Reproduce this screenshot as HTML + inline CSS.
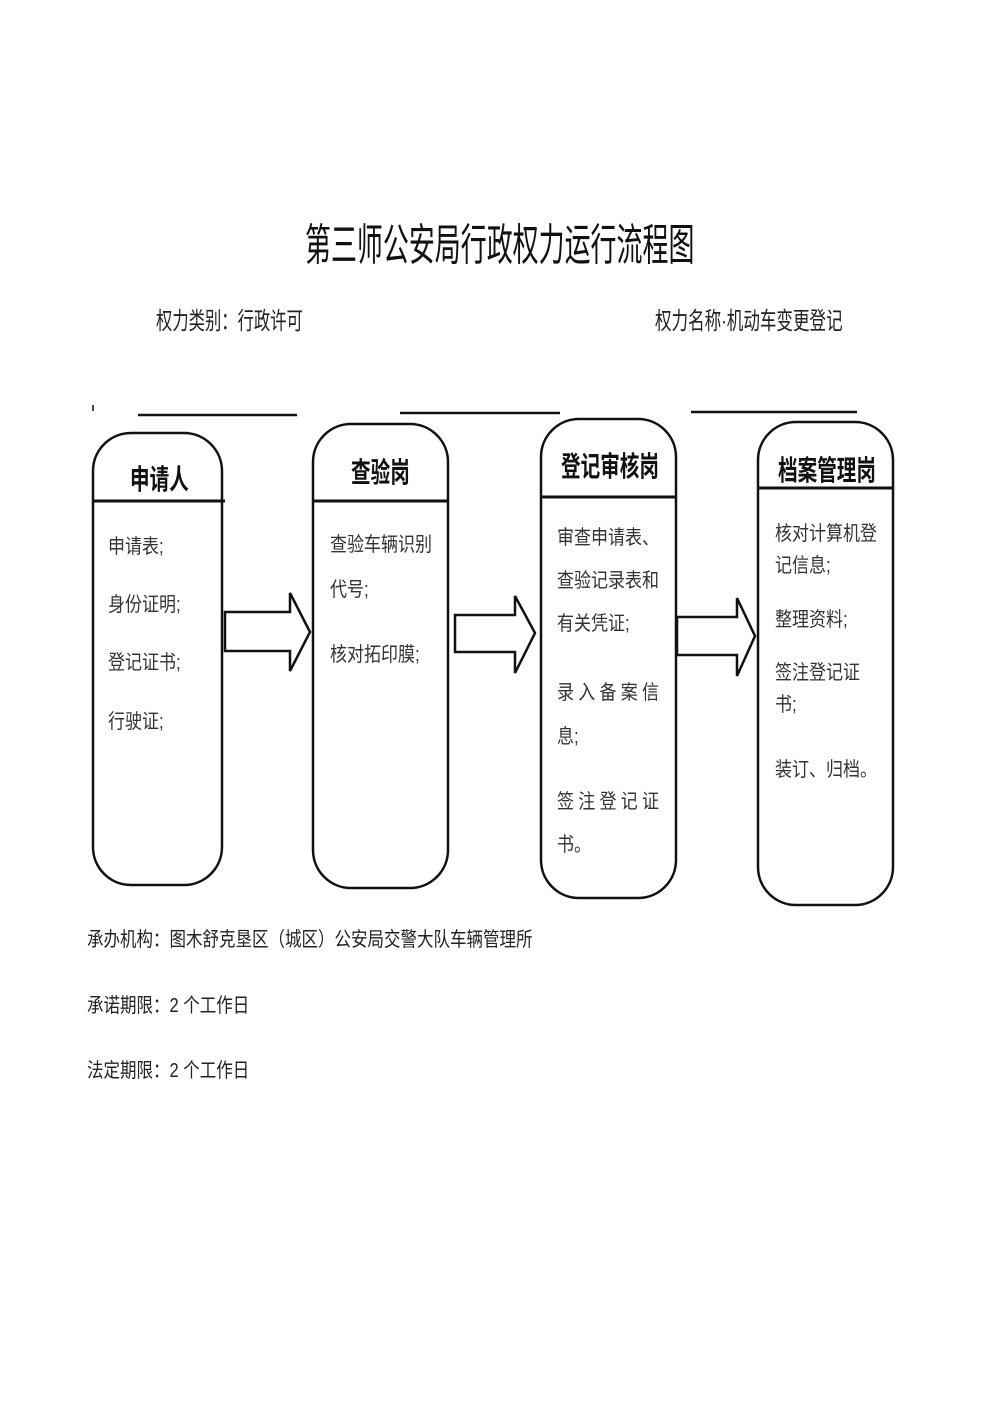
<!DOCTYPE html>
<html><head><meta charset="utf-8"><style>
body{margin:0;background:#fff;}
#p{position:relative;width:1000px;height:1414px;overflow:hidden;background:#fff;font-family:"Liberation Sans","Noto Sans CJK SC",sans-serif;color:#222;}
.t{position:absolute;white-space:nowrap;transform-origin:0 0;line-height:1;}
.b{font-size:20px;transform:scaleX(0.85);color:#333;}
.h{font-size:28px;transform:scaleX(0.7);font-weight:bold;color:#111;}
</style></head><body><div id="p">
<svg width="1000" height="1414" style="position:absolute;left:0;top:0">
<g fill="none" stroke="#111" stroke-width="2.5">
<line x1="138" y1="415" x2="297" y2="415"/>
<line x1="400" y1="413" x2="560" y2="413"/>
<line x1="691" y1="412" x2="857" y2="412"/>
<line x1="93" y1="405" x2="93" y2="411" stroke-width="1.5"/>
<rect x="93" y="433" width="129" height="452" rx="38"/>
<line x1="93" y1="501" x2="225" y2="501" stroke-width="3"/>
<rect x="313" y="424" width="135" height="464" rx="38"/>
<line x1="313" y1="501" x2="448" y2="501" stroke-width="3"/>
<rect x="541" y="419" width="135" height="479" rx="38"/>
<line x1="541" y1="497" x2="676" y2="497" stroke-width="3"/>
<rect x="758" y="422" width="135" height="483" rx="38"/>
<line x1="758" y1="488" x2="893" y2="488" stroke-width="3"/>
<polygon points="225,612 290,612 290,593 310,632 290,671 290,651 225,651" stroke-width="2.5"/>
<polygon points="455,615 515,615 515,596 535,633 515,673 515,652 455,652" stroke-width="2.5"/>
<polygon points="677,617 737,617 737,598 755,636 737,676 737,655 677,655" stroke-width="2.5"/>
</g></svg>
<div class="t" style="left:305px;top:224px;font-size:44px;transform:scaleX(0.59);color:#111">第三师公安局行政权力运行流程图</div>
<div class="t" style="left:156px;top:310px;font-size:24px;transform:scaleX(0.68)">权力类别：行政许可</div>
<div class="t" style="left:655px;top:310px;font-size:24px;transform:scaleX(0.69)">权力名称·机动车变更登记</div>

<div class="t h" style="left:130px;top:466px">申请人</div>
<div class="t h" style="left:351px;top:459px">查验岗</div>
<div class="t h" style="left:561px;top:453px">登记审核岗</div>
<div class="t h" style="left:778px;top:457px">档案管理岗</div>

<div class="t b" style="left:108px;top:537px">申请表;</div>
<div class="t b" style="left:108px;top:595px">身份证明;</div>
<div class="t b" style="left:108px;top:653px">登记证书;</div>
<div class="t b" style="left:108px;top:712px">行驶证;</div>

<div class="t b" style="left:330px;top:535px">查验车辆识别</div>
<div class="t b" style="left:330px;top:580px">代号;</div>
<div class="t b" style="left:330px;top:645px">核对拓印膜;</div>

<div class="t b" style="left:557px;top:528px">审查申请表、</div>
<div class="t b" style="left:557px;top:571px">查验记录表和</div>
<div class="t b" style="left:557px;top:614px">有关凭证;</div>
<div class="t b" style="left:557px;top:683px;letter-spacing:5px">录入备案信</div>
<div class="t b" style="left:557px;top:727px">息;</div>
<div class="t b" style="left:557px;top:792px;letter-spacing:5px">签注登记证</div>
<div class="t b" style="left:557px;top:835px">书。</div>

<div class="t b" style="left:775px;top:524px">核对计算机登</div>
<div class="t b" style="left:775px;top:556px">记信息;</div>
<div class="t b" style="left:775px;top:610px">整理资料;</div>
<div class="t b" style="left:775px;top:663px">签注登记证</div>
<div class="t b" style="left:775px;top:695px">书;</div>
<div class="t b" style="left:775px;top:760px">装订、归档。</div>

<div class="t" style="left:87px;top:930px;font-size:20px;transform:scaleX(0.825)">承办机构：图木舒克垦区（城区）公安局交警大队车辆管理所</div>
<div class="t" style="left:87px;top:996px;font-size:20px;transform:scaleX(0.825)">承诺期限：2 个工作日</div>
<div class="t" style="left:87px;top:1061px;font-size:20px;transform:scaleX(0.825)">法定期限：2 个工作日</div>
</div></body></html>
